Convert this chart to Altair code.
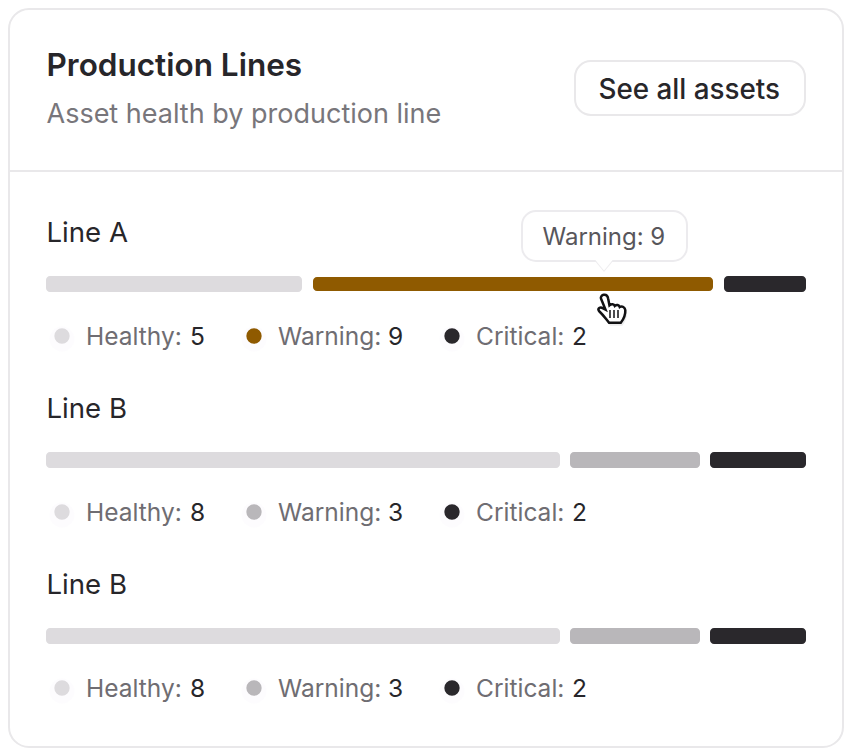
import altair as alt
import pandas as pd

FONT = "Inter"
INK = "#27262a"
MUTED = "#78767b"
LABEL = "#6f6d72"
BORDER = "#e9e8ea"

# ---- data
row_names = ["Line A", "Line B", "Line B"]
healthy = [5, 8, 8]
warning = [9, 3, 3]
critical = [2, 2, 2]
statuses = ["Healthy", "Warning", "Critical"]
# drawn segment lengths (bar track = 760 units)
seg_len = [[256, 400, 82], [514, 130, 96], [514, 130, 96]]
seg_gap = [[11, 11], [10, 10], [10, 10]]
seg_color = [
    ["#dddbde", "#8f5a00", "#2a282c"],
    ["#dddbde", "#b9b7ba", "#2a282c"],
    ["#dddbde", "#b9b7ba", "#2a282c"],
]
seg_height = [[16, 14, 16], [16, 16, 16], [16, 16, 16]]
legend_dot_x = [16, 208, 406]
legend_label_x = [40, 232, 430]
legend_value_x = [144, 342, 526]

seg_rows, legend_rows, name_rows = [], [], []
for r, name in enumerate(row_names):
    name_rows.append({"row": r, "name": name})
    values = [healthy[r], warning[r], critical[r]]
    pos = 0
    for s, status in enumerate(statuses):
        seg_rows.append({
            "row": r, "status": status, "start": pos, "end": pos + seg_len[r][s],
            "color": seg_color[r][s], "h": seg_height[r][s],
        })
        pos += seg_len[r][s] + (seg_gap[r][s] if s < 2 else 0)
        legend_rows.append({
            "row": r, "dot": legend_dot_x[s], "lx": legend_label_x[s], "vx": legend_value_x[s],
            "label": f"{status}:", "value": str(values[s]),
            "color": seg_color[r][s],
        })
segs = pd.DataFrame(seg_rows)
legend = pd.DataFrame(legend_rows)
names = pd.DataFrame(name_rows)

W, H = 836, 740
xs = alt.Scale(domain=[0, 760], range=[38, 798])
ys = alt.Scale(domain=[0, 2], range=[276, 628], padding=0, nice=False, zero=False)
X = lambda f: alt.X(f, type="quantitative", scale=xs, axis=None)
Y = alt.Y("row:Q", scale=ys, axis=None)


def box(x, x2, y, y2, radius, stroke=BORDER, sw=2, fill="#ffffff", **kw):
    return alt.Chart(pd.DataFrame({"a": [0]})).mark_rect(
        fill=fill, stroke=stroke, strokeWidth=sw, cornerRadius=radius, **kw
    ).encode(x=alt.value(x), x2=alt.value(x2), y=alt.value(y), y2=alt.value(y2))


def label(text, x, y, size, color, weight=400):
    return alt.Chart(pd.DataFrame({"t": [text]})).mark_text(
        font=FONT, fontSize=size, fontWeight=weight, color=color, align="left", baseline="middle"
    ).encode(text="t:N", x=alt.value(x), y=alt.value(y))


card = box(1, 835, 1, 739, 20)
divider = alt.Chart(pd.DataFrame({"a": [0]})).mark_rule(color=BORDER, strokeWidth=2).encode(
    x=alt.value(0), x2=alt.value(836), y=alt.value(163)
)
title = label("Production Lines", 38.5, 59, 31.5, INK, 600)
subtitle = label("Asset health by production line", 38.5, 107, 27, MUTED)
button = box(567, 797, 53, 107, 16)
button_text = label("See all assets", 590.5, 83, 27.8, INK, 500)

name_text = alt.Chart(names).mark_text(
    font=FONT, fontSize=27.6, color=INK, align="left", baseline="middle", yOffset=-50
).encode(text="name:N", x=alt.value(38.5), y=Y)

bars = alt.Chart(segs).mark_bar(cornerRadius=4).encode(
    x=X("start"), x2="end:Q", y=Y,
    color=alt.Color("color:N", scale=None, legend=None),
    size=alt.Size("h:Q", scale=None, legend=None),
)

halo = alt.Chart(legend).mark_circle(size=620, color="#fdfbfe", opacity=0.8, yOffset=55).encode(
    x=X("dot"), y=Y
)
dots = alt.Chart(legend).mark_circle(size=235, opacity=1, yOffset=52).encode(
    x=X("dot"), y=Y, color=alt.Color("color:N", scale=None, legend=None)
)
leg_labels = alt.Chart(legend).mark_text(
    font=FONT, fontSize=24.5, color=LABEL, align="left", baseline="middle", yOffset=54
).encode(text="label:N", x=X("lx"), y=Y)
leg_values = alt.Chart(legend).mark_text(
    font=FONT, fontSize=24.5, color=INK, align="left", baseline="middle", yOffset=54
).encode(text="value:N", x=X("vx"), y=Y)

CARET = "M-1,-0.6L1,-0.6L0,0.6Z"
caret_edge = alt.Chart(pd.DataFrame({"a": [0]})).mark_point(
    shape=CARET, size=400, filled=True, fill="#efeef0", opacity=1, strokeWidth=0
).encode(x=alt.value(596), y=alt.value(258))
tooltip = box(514, 679, 203, 253, 14, stroke="#ecebee")
caret = alt.Chart(pd.DataFrame({"a": [0]})).mark_point(
    shape=CARET, size=324, filled=True, fill="#ffffff", opacity=1, strokeWidth=0
).encode(x=alt.value(596), y=alt.value(257))
tooltip_text = label("Warning: 9", 534.5, 230, 24, "#58565b")

HAND = (
    "M-0.58,-1 C-0.42,-1.02 -0.3,-0.9 -0.27,-0.72 L-0.18,-0.26 "
    "C-0.04,-0.38 0.14,-0.36 0.2,-0.22 C0.32,-0.34 0.5,-0.3 0.55,-0.14 "
    "C0.72,-0.24 0.92,-0.12 0.94,0.08 C0.96,0.4 0.82,0.72 0.62,0.98 "
    "L-0.2,0.98 C-0.42,0.72 -0.62,0.42 -0.92,0.14 C-1.04,-0.02 -0.84,-0.18 -0.66,-0.06 "
    "L-0.46,0.04 L-0.78,-0.74 C-0.82,-0.86 -0.72,-0.98 -0.58,-1 Z"
)
hand_shadow = alt.Chart(pd.DataFrame({"a": [0]})).mark_point(
    shape=HAND, size=900, filled=True, fill="#d8d7da", opacity=0.5, strokeWidth=0
).encode(x=alt.value(605), y=alt.value(303))
hand = alt.Chart(pd.DataFrame({"a": [0]})).mark_point(
    shape=HAND, size=800, filled=True, fill="#ffffff", stroke="#111113", strokeWidth=2.5, opacity=1
).encode(x=alt.value(604), y=alt.value(301))
hand_lines = alt.Chart(pd.DataFrame({"a": [0, 1, 2]})).mark_rule(color="#111113", strokeWidth=1.5).encode(
    x=alt.X("a:Q", scale=alt.Scale(domain=[0, 2], range=[602, 610]), axis=None),
    y=alt.value(302), y2=alt.value(310),
)

chart = alt.layer(
    card, divider, title, subtitle, button, button_text,
    name_text, bars, halo, dots, leg_labels, leg_values,
    caret_edge, tooltip, caret, tooltip_text, hand_shadow, hand, hand_lines,
).resolve_scale(x="independent").properties(
    width=W, height=H, padding=0, autosize=alt.AutoSizeParams(type="none"), background="#ffffff"
).configure_view(stroke=None)

chart.save("out.html", embed_options={"renderer": "svg", "actions": False})
